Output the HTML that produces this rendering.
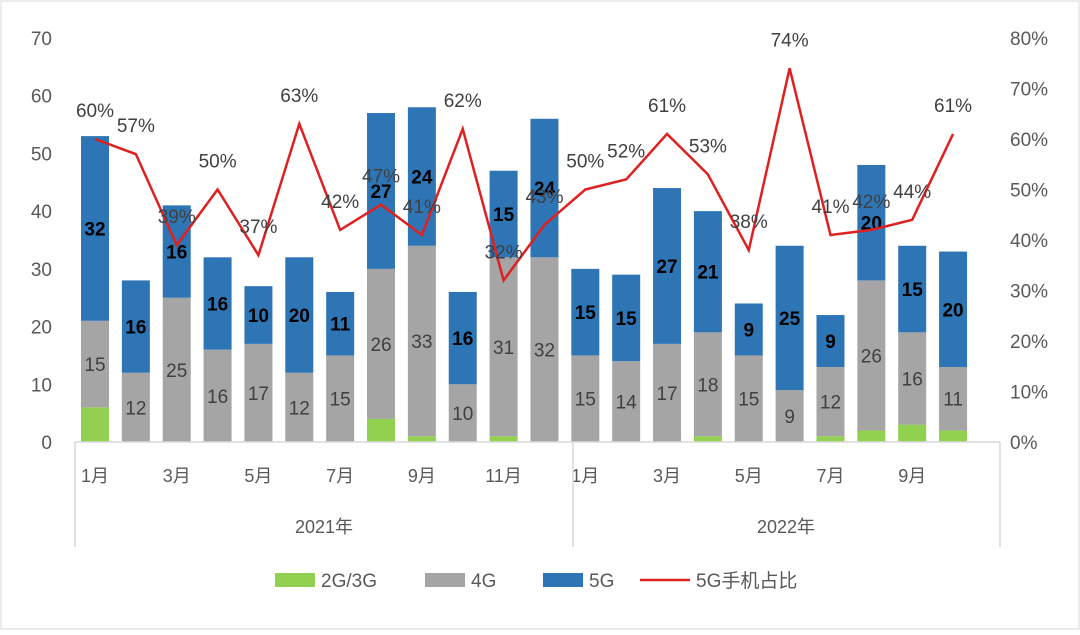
<!DOCTYPE html>
<html><head><meta charset="utf-8"><style>
body{margin:0;background:#fff;font-family:"Liberation Sans","Noto Sans CJK SC",sans-serif}
svg text{font-family:"Liberation Sans","Noto Sans CJK SC",sans-serif}
</style></head><body>
<svg id="c" width="1080" height="630" viewBox="0 0 1080 630">
<rect x="1" y="1" width="1078" height="628" fill="#fff" stroke="#d9d9d9"/>
</svg>
<script>
const months=["1月","2月","3月","4月","5月","6月","7月","8月","9月","10月","11月","12月","1月","2月","3月","4月","5月","6月","7月","8月","9月","10月"];
const g23=[6,0,0,0,0,0,0,4,1,0,1,0,0,0,0,1,0,0,1,2,3,2];
const g4=[15,12,25,16,17,12,15,26,33,10,31,32,15,14,17,18,15,9,12,26,16,11];
const g5=[32,16,16,16,10,20,11,27,24,16,15,24,15,15,27,21,9,25,9,20,15,20];
const share=[60,57,39,50,37,63,42,47,41,62,32,43,50,52,61,53,38,74,41,42,44,61];
const leftTicks=[0,10,20,30,40,50,60,70];
const rightTicks=[0,10,20,30,40,50,60,70,80];
const years=["2021年","2022年"];
const svg=document.getElementById('c');const NS="http://www.w3.org/2000/svg";
function el(t,a,txt){const e=document.createElementNS(NS,t);for(const k in a)e.setAttribute(k,a[k]);if(txt!==undefined)e.textContent=txt;svg.appendChild(e);return e;}
const y0=442,yTop=38;
const yL=v=>y0-(y0-yTop)*v/70;
const yR=v=>y0-(y0-yTop)*v/80;
const x=i=>95+i*40.86;
const bw=28;
leftTicks.forEach(t=>{const e=el('text',{x:52,y:yL(t)+7,'text-anchor':'end','font-size':19,fill:'#595959'},t);
});
rightTicks.forEach(t=>{const e=el('text',{x:1010,y:yR(t)+7,'font-size':19,fill:'#595959'},t+'%');
});
months.forEach((m,i)=>{
 let b=y0;
 const h23=y0-yL(g23[i]);
 if(g23[i]>0){const r=el('rect',{x:x(i)-bw/2,y:b-h23,width:bw,height:h23,fill:'#92d050'});}
 b-=h23;
 const h4=y0-yL(g4[i]);
 const r4=el('rect',{x:x(i)-bw/2,y:b-h4,width:bw,height:h4,fill:'#a5a5a5'});
 const t4=el('text',{x:x(i),y:b-h4/2+7,'text-anchor':'middle','font-size':19,fill:'#404040'},g4[i]);
 b-=h4;
 const h5=y0-yL(g5[i]);
 const r5=el('rect',{x:x(i)-bw/2,y:b-h5,width:bw,height:h5,fill:'#2e75b6'});
 const t5=el('text',{x:x(i),y:b-h5/2+7,'text-anchor':'middle','font-size':19,'font-weight':'bold',fill:'#000'},g5[i]);
 if(i%2==0){const tm=el('text',{x:x(i),y:482,'text-anchor':'middle','font-size':18,fill:'#595959'},m);}
});
const ax=el('line',{x1:75,y1:y0,x2:1000,y2:y0,stroke:'#d9d9d9','stroke-width':1.5});
[75,573,1000].forEach(xx=>{const l=el('line',{x1:xx,y1:y0,x2:xx,y2:547,stroke:'#d9d9d9','stroke-width':1.5});});
[[324,years[0]],[786,years[1]]].forEach(([xx,t])=>{const e=el('text',{x:xx,y:533,'text-anchor':'middle','font-size':18,fill:'#595959'},t);});
const pl=el('polyline',{points:share.map((v,i)=>x(i)+','+yR(v)).join(' '),fill:'none',stroke:'#e02020','stroke-width':2.5});

share.forEach((v,i)=>{const e=el('text',{x:x(i),y:yR(v)-22,'text-anchor':'middle','font-size':19,fill:'#404040'},v+'%');});
const leg=[['#92d050','2G/3G',275],['#a5a5a5','4G',425],['#2e75b6','5G',543]];
leg.forEach(([c,t,lx])=>{const r=el('rect',{x:lx,y:573,width:40,height:14,fill:c});
const e=el('text',{x:lx+46,y:587,'font-size':19,fill:'#595959'},t);});
const ll=el('line',{x1:640,y1:580,x2:690,y2:580,stroke:'#e02020','stroke-width':2.5});
const lt=el('text',{x:696,y:587,'font-size':19,fill:'#595959'},'5G手机占比');
</script>
</body></html>
